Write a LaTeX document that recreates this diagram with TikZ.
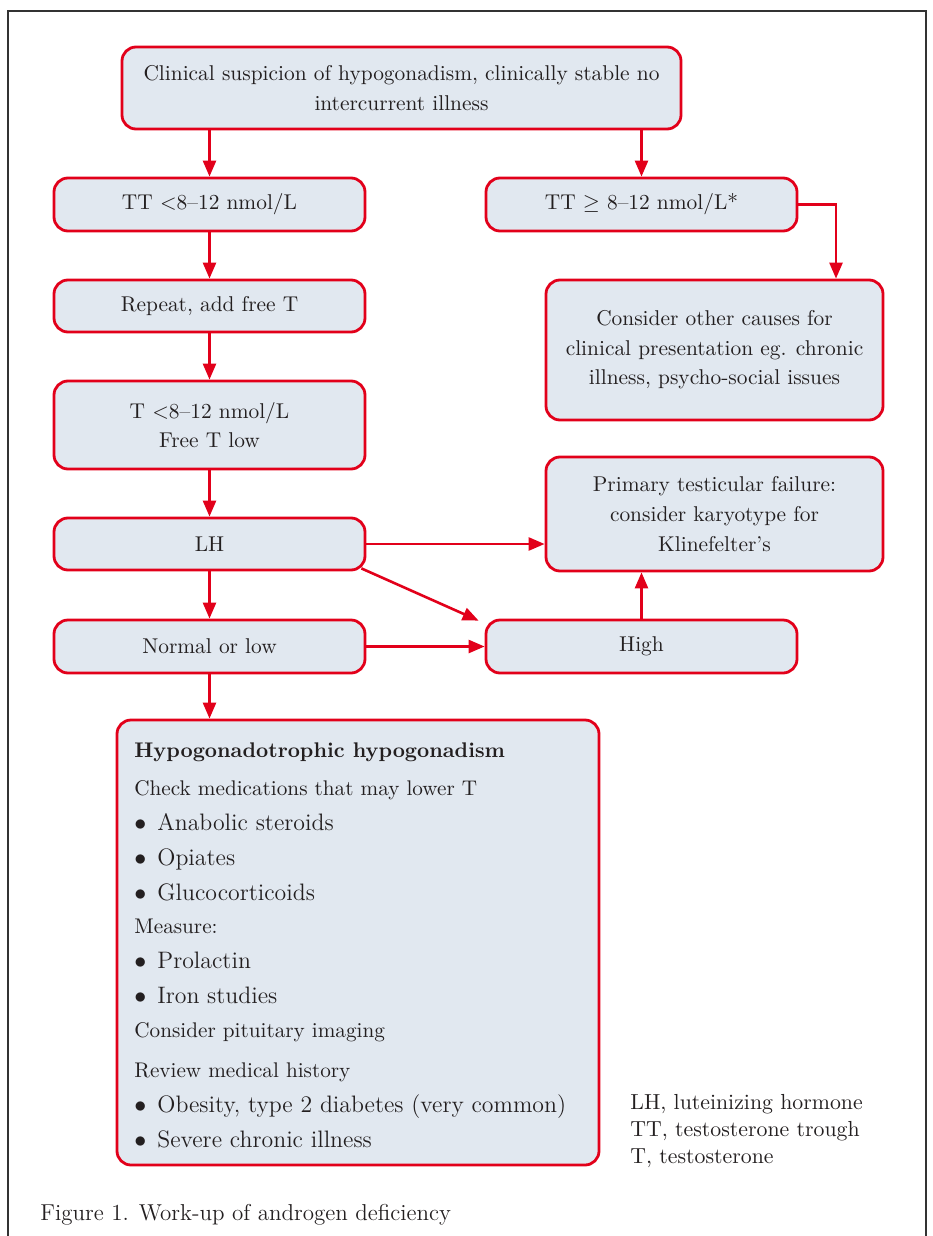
\documentclass[tikz,border=0pt]{standalone}
\usetikzlibrary{arrows.meta,calc}
\definecolor{ared}{HTML}{E2001A}
\definecolor{boxfill}{HTML}{E1E8F0}
\definecolor{txt}{HTML}{231F20}
\begin{document}
\begin{tikzpicture}[x=0.5pt, y=-0.5pt,
  box/.style={draw=ared, fill=boxfill, rounded corners=7pt, line width=1.4pt,
    align=center, inner sep=0pt, text=txt, font=\fontsize{10.7}{14.8}\selectfont},
  arr/.style={draw=ared, line width=1.3pt, -{Triangle[length=8pt,width=6.5pt]}},
  ln/.style={anchor=base west, inner sep=0pt, text=txt, font=\fontsize{10.6}{12}\selectfont},
  bl/.style={anchor=base west, inner sep=0pt, text=txt, font=\fontsize{11.9}{13}\selectfont},
  lg/.style={anchor=base west, inner sep=0pt, text=txt, font=\fontsize{10.9}{12}\selectfont}]
\useasboundingbox (0,0) rectangle (932,1236);
\draw[line width=0.8pt, color=black!80] (8,1236) -- (8,11) -- (926,11) -- (926,1236);

% boxes
\node[box, minimum width=279.5pt, minimum height=41pt] (top) at (401.5,88)
  {Clinical suspicion of hypogonadism, clinically stable no\\ intercurrent illness};
\node[box, minimum width=155.5pt, minimum height=26.5pt] (tt1) at (209.5,204.5) {TT <8--12 nmol/L};
\node[box, minimum width=155.5pt, minimum height=26.5pt] (tt2) at (641.5,204.5) {TT $\geq$ 8--12 nmol/L*};
\node[box, minimum width=155.5pt, minimum height=26pt] (rep) at (209.5,306) {Repeat, add free T};
\node[box, minimum width=155.5pt, minimum height=44pt] (tlow) at (209.5,425) {T <8--12 nmol/L\\ Free T low};
\node[box, minimum width=168.5pt, minimum height=70pt] (other) at (714.5,350)
  {Consider other causes for\\ clinical presentation eg. chronic\\ illness, psycho-social issues};
\node[box, minimum width=168.5pt, minimum height=57pt] (prim) at (714.5,514)
  {Primary testicular failure:\\ consider karyotype for\\ Klinefelter's};
\node[box, minimum width=155.5pt, minimum height=26pt] (lh) at (209.5,544) {LH};
\node[box, minimum width=155.5pt, minimum height=26.5pt] (norm) at (209.5,646.5) {Normal or low};
\node[box, minimum width=155.5pt, minimum height=26.5pt] (high) at (641.5,646.5) {High};
\node[box, minimum width=241pt, minimum height=222.5pt] (hypo) at (358,942.5) {};

% text of the large box
\node[ln, font=\fontsize{10.6}{12}\selectfont\bfseries] (h0) at (134,757) {Hypogonadotrophic hypogonadism};
\node[ln] (h1) at (134,795) {Check medications that may lower T};
\node[bl] (b1) at (134,830) {$\bullet$};
\node[bl] (h2) at (157,830) {Anabolic steroids};
\node[bl] (b2) at (134,865) {$\bullet$};
\node[bl] (h3) at (157,865) {Opiates};
\node[bl] (b3) at (134,900) {$\bullet$};
\node[bl] (h4) at (157,900) {Glucocorticoids};
\node[ln] (h5) at (134,933) {Measure:};
\node[bl] (b4) at (134,968) {$\bullet$};
\node[bl] (h6) at (157,968) {Prolactin};
\node[bl] (b5) at (134,1003) {$\bullet$};
\node[bl] (h7) at (157,1003) {Iron studies};
\node[ln] (h8) at (134,1037) {Consider pituitary imaging};
\node[ln] (h9) at (134,1077) {Review medical history};
\node[bl] (b6) at (134,1112) {$\bullet$};
\node[bl] (h10) at (157,1112) {Obesity, type 2 diabetes (very common)};
\node[bl] (b7) at (134,1147) {$\bullet$};
\node[bl] (h11) at (157,1147) {Severe chronic illness};

% legend and caption
\node[lg] (l1) at (630,1109) {LH, luteinizing hormone};
\node[lg] (l2) at (630,1136) {TT, testosterone trough};
\node[lg] (l3) at (630,1163) {T, testosterone};
\node[lg, font=\fontsize{11.5}{12}\selectfont] (cap) at (40,1220) {Figure 1. Work-up of androgen deficiency};

% connectors
\draw[arr] (top.south -| tt1.north) -- (tt1.north);
\draw[arr] (top.south -| tt2.north) -- (tt2.north);
\draw[arr] (tt2.east) -| ($(other.north)+(121.5,0)$);
\draw[arr] (tt1.south) -- (rep.north);
\draw[arr] (rep.south) -- (tlow.north);
\draw[arr] (tlow.south) -- (lh.north);
\draw[arr] (lh.south) -- (norm.north);
\draw[arr] (norm.south) -- (norm.south |- hypo.north);
\draw[arr] (lh.east) -- (lh.east -| prim.west);
\draw[arr] ($(lh.south east)+(-5,-3)$) -- ($(high.north west)+(-6,2)$);
\draw[arr] (norm.east) -- (high.west);
\draw[arr] (high.north) -- (high.north |- prim.south);
\end{tikzpicture}
\end{document}
